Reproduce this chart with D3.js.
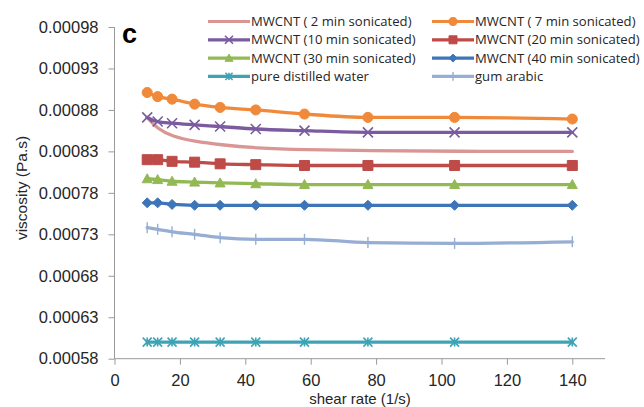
<!DOCTYPE html>
<html>
<head>
<meta charset="utf-8">
<script src="https://cdn.jsdelivr.net/npm/d3@7"></script>
<style>
  html, body { margin: 0; padding: 0; background: #fff; }
  svg { display: block; font-family: "Open Sans", "Liberation Sans", sans-serif; }
</style>
</head>
<body>
<svg id="chart" width="644" height="407"></svg>
<script>
// Shear rates (1/s) at which viscosity was measured
const shearRate = [10, 13.2, 17.6, 24.5, 32.3, 43.2, 58.1, 77.5, 104, 140];

// Viscosity (Pa.s) for each sample
const mwcnt2  = [0.000871, 0.000857, 0.000848, 0.000842, 0.000838, 0.000834, 0.000832, 0.000831, 0.000830, 0.000830];
const mwcnt7  = [0.000901, 0.000896, 0.000893, 0.000887, 0.000883, 0.000880, 0.000875, 0.000871, 0.000871, 0.000869];
const mwcnt10 = [0.000871, 0.000866, 0.000864, 0.000862, 0.000860, 0.000857, 0.000855, 0.000853, 0.000853, 0.000853];
const mwcnt20 = [0.000820, 0.000820, 0.000818, 0.000817, 0.000815, 0.000814, 0.000813, 0.000813, 0.000813, 0.000813];
const mwcnt30 = [0.000797, 0.000796, 0.000794, 0.000793, 0.000792, 0.000791, 0.000790, 0.000790, 0.000790, 0.000790];
const mwcnt40 = [0.000768, 0.000768, 0.000766, 0.000765, 0.000765, 0.000765, 0.000765, 0.000765, 0.000765, 0.000765];
const water   = [0.000600, 0.000600, 0.000600, 0.000600, 0.000600, 0.000600, 0.000600, 0.000600, 0.000600, 0.000600];
const gum     = [0.000738, 0.000736, 0.000733, 0.000730, 0.000726, 0.000724, 0.000724, 0.000720, 0.000719, 0.000721];

const seriesNames = [
  "MWCNT ( 2 min sonicated)", "MWCNT ( 7 min sonicated)",
  "MWCNT (10 min sonicated)", "MWCNT (20 min sonicated)",
  "MWCNT (30 min sonicated)", "MWCNT (40 min sonicated)",
  "pure distilled water", "gum arabic"
];

const xTicks = [0, 20, 40, 60, 80, 100, 120, 140];
const yTicks = [0.00058, 0.00063, 0.00068, 0.00073, 0.00078, 0.00083, 0.00088, 0.00093, 0.00098];
const panelLabel = "c";
const xTitle = "shear rate (1/s)";
const yTitle = "viscosity (Pa.s)";

// Series table built from the arrays above
const series = [
  { name: seriesNames[0], values: mwcnt2,  color: "#d99694", marker: "none",     smooth: true },
  { name: seriesNames[1], values: mwcnt7,  color: "#f08a3a", marker: "circle" },
  { name: seriesNames[2], values: mwcnt10, color: "#7a5ba0", marker: "x" },
  { name: seriesNames[3], values: mwcnt20, color: "#be4b48", marker: "square" },
  { name: seriesNames[4], values: mwcnt30, color: "#93b954", marker: "triangle" },
  { name: seriesNames[5], values: mwcnt40, color: "#3e75b9", marker: "diamond" },
  { name: seriesNames[6], values: water,   color: "#3ea3b5", marker: "star" },
  { name: seriesNames[7], values: gum,     color: "#97aed4", marker: "plus" }
];

const svg = d3.select("#chart");

const x = d3.scaleLinear().domain([0, 150]).range([114.5, 605]);
const y = d3.scaleLinear().domain([0.00058, 0.00098]).range([358.7, 27]);

const axisColor = "#9a9a9a";
const textColor = "#262626";
const titleFont = "'Liberation Sans', Arial, sans-serif";

// Y axis
const yAxis = svg.append("g")
  .attr("transform", `translate(${x(0)},0)`)
  .call(d3.axisLeft(y).tickValues(yTicks).tickFormat(d3.format(".5f")).tickSize(6).tickPadding(10));
yAxis.select(".domain").attr("stroke", axisColor).attr("d", `M0,${y(0.00058)}V${y(0.00098)}`);
yAxis.selectAll(".tick line").attr("stroke", axisColor);
yAxis.selectAll(".tick text").attr("fill", textColor).style("font-size", "16.5px");

// X axis
const xAxis = svg.append("g")
  .attr("transform", `translate(0,${y(0.00058)})`)
  .call(d3.axisBottom(x).tickValues(xTicks).tickSize(6).tickPadding(9.5));
xAxis.select(".domain").attr("stroke", axisColor).attr("d", `M${x(0)},0H${x(150)}`);
xAxis.selectAll(".tick line").attr("stroke", axisColor);
xAxis.selectAll(".tick text").attr("fill", textColor).style("font-size", "16.5px");

// Axis titles
svg.append("text")
  .attr("x", 360).attr("y", 404.3)
  .attr("text-anchor", "middle")
  .attr("fill", textColor)
  .style("font-family", titleFont)
  .style("font-size", "15px")
  .text(xTitle);

svg.append("text")
  .attr("transform", "translate(27,188) rotate(-90)")
  .attr("text-anchor", "middle")
  .attr("fill", textColor)
  .style("font-family", titleFont)
  .style("font-size", "15.5px")
  .text(yTitle);

// Panel letter
svg.append("text")
  .attr("x", 122).attr("y", 43)
  .attr("fill", "#000")
  .style("font-family", titleFont)
  .style("font-weight", "bold")
  .style("font-size", "27px")
  .text(panelLabel);

// Marker shapes
function markerPath(type, s) {
  const h = s / 2;
  switch (type) {
    case "circle":   return d3.symbol(d3.symbolCircle, s * s * 0.8)();
    case "square":   return `M${-h},${-h}H${h}V${h}H${-h}Z`;
    case "triangle": return `M0,${-h}L${h},${h * 0.8}L${-h},${h * 0.8}Z`;
    case "diamond":  return `M0,${-h}L${h},0L0,${h}L${-h},0Z`;
    case "x":        return `M${-h},${-h}L${h},${h}M${-h},${h}L${h},${-h}`;
    case "star":     return `M${-h},${-h}L${h},${h}M${-h},${h}L${h},${-h}M0,${-h}V${h}`;
    case "plus":     return `M0,${-h}V${h}`;
    default:         return "";
  }
}
const markerSize = { circle: 10, square: 10, triangle: 10, diamond: 10, x: 10, star: 9, plus: 11 };
const strokeOnly = { x: true, star: true, plus: true };

function drawMarker(g, type, color, cx, cy, scale) {
  if (type === "none") return;
  const p = g.append("path")
    .attr("transform", `translate(${cx},${cy})`)
    .attr("d", markerPath(type, markerSize[type] * scale));
  if (strokeOnly[type]) {
    p.attr("fill", "none").attr("stroke", color).attr("stroke-width", type === "plus" ? 1.4 : 1.6);
  } else {
    p.attr("fill", color).attr("stroke", color).attr("stroke-width", 1);
  }
}

// Lines and markers
const plot = svg.append("g");
series.forEach(s => {
  const pts = shearRate.map((r, i) => [r, s.values[i]]);
  const line = d3.line()
    .x(d => x(d[0])).y(d => y(d[1]))
    .curve(s.smooth ? d3.curveBasis : d3.curveMonotoneX);
  const g = plot.append("g");
  g.append("path")
    .datum(pts)
    .attr("d", line)
    .attr("fill", "none")
    .attr("stroke", s.color)
    .attr("stroke-width", 3.3)
    .attr("stroke-linejoin", "round")
    .attr("stroke-linecap", "round");
  pts.forEach(d => drawMarker(g, s.marker, s.color, x(d[0]), y(d[1]), 1));
});

// Legend: two columns, four rows
const legend = svg.append("g");
const colX = [208, 432];
const rowY = [21.5, 39.8, 58.1, 76.4];
series.forEach((s, i) => {
  const cx = colX[i % 2];
  const cy = rowY[Math.floor(i / 2)];
  const g = legend.append("g");
  g.append("line")
    .attr("x1", cx).attr("x2", cx + 42)
    .attr("y1", cy).attr("y2", cy)
    .attr("stroke", s.color).attr("stroke-width", 3.2);
  drawMarker(g, s.marker, s.color, cx + 21, cy, 0.8);
  g.append("text")
    .attr("x", cx + 43).attr("y", cy)
    .attr("dy", "0.35em")
    .attr("fill", textColor)
    .style("font-size", "13.1px")
    .text(s.name);
});
</script>
</body>
</html>
